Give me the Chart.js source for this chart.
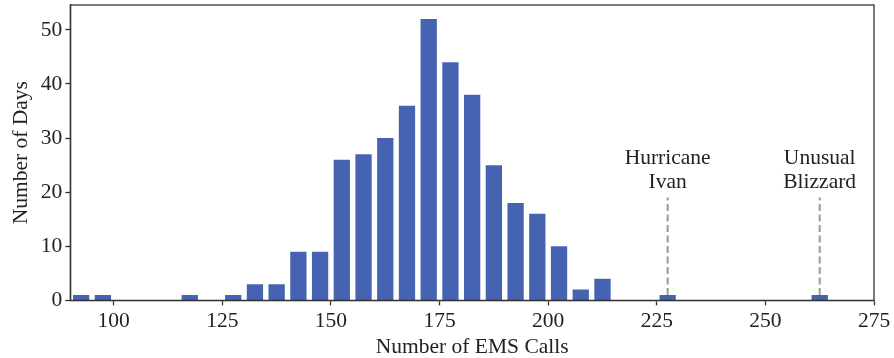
<!DOCTYPE html>
<html>
<head>
<meta charset="utf-8">
<script src="https://cdn.jsdelivr.net/npm/chart.js@4"></script>
<style>
html,body{margin:0;padding:0;background:#fff;}
#wrap{width:894px;height:358px;}
</style>
</head>
<body>
<div id="wrap"><canvas id="c" width="894" height="358"></canvas></div>
<script>
// Bin centers (EMS calls per day) and counts (number of days)
const binCenters = [92.5, 97.5, 102.5, 107.5, 112.5, 117.5, 122.5, 127.5, 132.5, 137.5, 142.5, 147.5,
  152.5, 157.5, 162.5, 167.5, 172.5, 177.5, 182.5, 187.5, 192.5, 197.5, 202.5, 207.5, 212.5,
  217.5, 222.5, 227.5, 232.5, 237.5, 242.5, 247.5, 252.5, 257.5, 262.5];
const dayCounts = [1, 1, 0, 0, 0, 1, 0, 1, 3, 3, 9, 9,
  26, 27, 30, 36, 52, 44, 38, 25, 18, 16, 10, 2, 4,
  0, 0, 1, 0, 0, 0, 0, 0, 0, 1];
const xTicks = [100, 125, 150, 175, 200, 225, 250, 275];
const yTicks = [0, 10, 20, 30, 40, 50];
// Annotated outliers
const eventX = [227.5, 262.5];
const eventLabels = [["Hurricane", "Ivan"], ["Unusual", "Blizzard"]];
const eventLineFrom = [1, 1];
const eventLineTo = [19, 19];

const FONT = "'Liberation Serif', 'Times New Roman', serif";
const FS = 21.5;
const barData = binCenters.map((x, i) => ({x: x, y: dayCounts[i]}));

const datasets = [{
  type: 'bar',
  data: barData,
  backgroundColor: '#4563b0',
  borderWidth: 0,
  barPercentage: 0.75,
  categoryPercentage: 1.0,
  order: 2
}];
eventX.forEach((x, i) => {
  datasets.push({
    type: 'line',
    data: [{x: x, y: eventLineFrom[i]}, {x: x, y: eventLineTo[i]}],
    borderColor: '#a0a0a0',
    borderWidth: 2.2,
    borderDash: [7, 3.5],
    pointRadius: 0,
    fill: false,
    order: 1
  });
});

const framePlugin = {
  id: 'frame',
  afterDraw(chart) {
    const ctx = chart.ctx, a = chart.chartArea;
    ctx.save();
    ctx.strokeStyle = '#333';
    ctx.lineWidth = 1.3;
    ctx.strokeRect(a.left, a.top, a.right - a.left, a.bottom - a.top);
    ctx.fillStyle = '#222';
    ctx.font = FS + "px " + FONT;
    ctx.textAlign = 'center';
    ctx.textBaseline = 'middle';
    const xs = chart.scales.x, ys = chart.scales.y;
    eventX.forEach((x, i) => {
      const px = xs.getPixelForValue(x);
      const top = ys.getPixelForValue(eventLineTo[i]);
      const lines = eventLabels[i];
      lines.forEach((t, j) => {
        ctx.fillText(t, px, top - 15.5 - (lines.length - 1 - j) * 24);
      });
    });
    ctx.restore();
  }
};

new Chart(document.getElementById('c'), {
  data: {datasets: datasets},
  options: {
    responsive: false,
    animation: false,
    devicePixelRatio: 1,
    layout: {padding: {left: 8, right: 20, top: 5, bottom: -2}},
    plugins: {legend: {display: false}, tooltip: {enabled: false}},
    scales: {
      x: {
        type: 'linear',
        offset: false,
        min: 90, max: 275,
        afterBuildTicks: (s) => { s.ticks = xTicks.map(v => ({value: v})); },
        afterFit: (s) => { s.paddingLeft = 0; s.paddingRight = 0; },
        grid: {display: true, offset: false, drawOnChartArea: false, drawTicks: true, tickLength: 5, tickColor: '#333', tickWidth: 1.3},
        border: {display: true, color: '#333', width: 1.3},
        ticks: {color: '#222', font: {family: FONT, size: FS}, padding: 3, maxRotation: 0, autoSkip: false},
        title: {display: true, text: 'Number of EMS Calls', color: '#222', font: {family: FONT, size: FS}, padding: {top: -3, bottom: 0}}
      },
      y: {
        type: 'linear',
        min: 0, max: 54.6,
        afterBuildTicks: (s) => { s.ticks = yTicks.map(v => ({value: v})); },
        afterFit: (s) => { s.paddingTop = 0; s.paddingBottom = 0; },
        grid: {display: true, offset: false, drawOnChartArea: false, drawTicks: true, tickLength: 5, tickColor: '#333', tickWidth: 1.3},
        border: {display: true, color: '#333', width: 1.3},
        ticks: {color: '#222', font: {family: FONT, size: FS}, padding: 3},
        title: {display: true, text: 'Number of Days', color: '#222', font: {family: FONT, size: FS}, padding: {top: 0, bottom: 4}}
      }
    }
  },
  plugins: [framePlugin]
});
</script>
</body>
</html>
